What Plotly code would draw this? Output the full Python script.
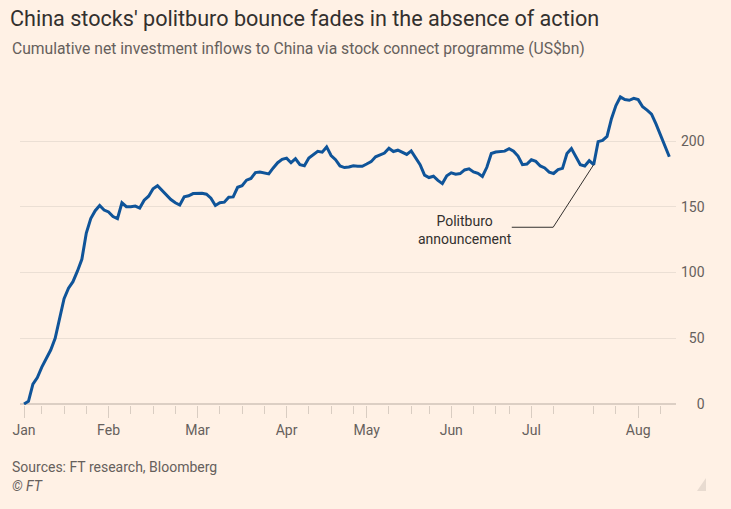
import plotly.graph_objects as go

# cumulative net inflows, one value per trading day from the start of January
inflows = [
    0, 2, 15, 20, 28, 34, 41, 50, 64, 80,
    88, 93, 101, 110, 130, 141, 147, 151, 147.5, 146,
    142.5, 141, 153, 150, 150, 150.5, 149, 155, 158, 163.7,
    166, 162.5, 159.5, 155.5, 153, 151.3, 157.5, 158.3, 160, 160.3,
    160.2, 159.5, 156.5, 151, 153, 153.5, 157.3, 157.5, 164.8, 166,
    170.2, 171.5, 176, 176.4, 175.5, 175, 179.5, 183.5, 186, 187,
    183.5, 186.5, 182, 181.2, 187, 189.6, 192.2, 191.5, 195.5, 189,
    185.8, 181, 179.8, 180.2, 181.2, 180.8, 180.8, 182.5, 184.3, 188,
    189.2, 190.8, 194.5, 192, 193, 191.5, 189.8, 192.5, 187.5, 182,
    174, 172.2, 173.2, 170, 167.6, 173.5, 175.8, 174.8, 175.2, 178,
    178.8, 176.5, 175.4, 173, 180, 190.5, 191.6, 191.8, 192.3, 194.2,
    192.3, 188.5, 182, 182.5, 185.7, 184.5, 181, 179.5, 176.3, 175.3,
    178.3, 179.2, 190.5, 194.2, 187.5, 182, 181, 185, 182, 199.5,
    200.5, 203.5, 217, 227, 233.5, 231.5, 231, 232.5, 231.5, 226,
    223.5, 220.5, 213, 205, 196, 188,
]
days = list(range(len(inflows)))

month_labels = ["Jan", "Feb", "Mar", "Apr", "May", "Jun", "Jul", "Aug"]
month_days = [0, 19, 39, 59, 77, 96, 114, 138]
week_days = [4, 9, 14, 24, 29, 34, 44, 49, 54, 64, 69, 74, 82, 87, 91,
             101, 106, 109, 119, 128, 133, 143]

y_ticks = [0, 50, 100, 150, 200]
politburo_day = 128

FIG_SP = "\u2007"
y_text = [FIG_SP * (3 - len(str(v))) + str(v) for v in y_ticks]

bg = "#fff1e5"
grey = "#66605c"

fig = go.Figure()
fig.add_trace(go.Scatter(
    x=days, y=inflows, mode="lines",
    line=dict(color="#0f5499", width=3),
    hoverinfo="skip",
))

# elbow leader for the annotation
px0, py0 = politburo_day, inflows[politburo_day]
fig.add_shape(
    type="path", xref="x", yref="y",
    path=f"M {px0},{py0} L 118.9,134.4 L 109.6,134.4",
    line=dict(color="#33302e", width=1),
)
fig.add_annotation(
    x=99.1, y=132.5, xref="x", yref="y",
    text="Politburo<br>announcement", showarrow=False,
    font=dict(size=14, color="#33302e"), align="center",
)

fig.add_annotation(
    x=-0.0152, y=1.098, xref="paper", yref="paper",
    xanchor="left", yanchor="middle", showarrow=False,
    text="Cumulative net investment inflows to China via stock connect programme (US$bn)",
    font=dict(size=15.7, color=grey),
)
fig.add_annotation(
    x=-0.0152, y=-0.191, xref="paper", yref="paper",
    xanchor="left", yanchor="middle", showarrow=False,
    text="Sources: FT research, Bloomberg",
    font=dict(size=14, color=grey),
)
fig.add_annotation(
    x=-0.0152, y=-0.248, xref="paper", yref="paper",
    xanchor="left", yanchor="middle", showarrow=False,
    text="<i>© FT</i>",
    font=dict(size=14, color=grey),
)
fig.add_shape(
    type="path", xref="paper", yref="paper",
    path="M 1.0457,-0.2246 L 1.0457,-0.2646 L 1.032,-0.2646 Z",
    fillcolor="#e8dbd0", line=dict(width=0),
)

fig.update_layout(
    width=731, height=509,
    paper_bgcolor=bg, plot_bgcolor=bg,
    font=dict(family="Roboto, sans-serif", color=grey),
    margin=dict(l=20, r=55, t=80, b=104),
    showlegend=False,
    title=dict(
        text="China stocks' politburo bounce fades in the absence of action",
        x=10 / 731, xanchor="left", xref="container",
        y=1 - 18 / 509, yanchor="middle", yref="container",
        font=dict(size=21.6, color="#33302e"),
    ),
    xaxis=dict(
        range=[-0.9, 146.5],
        tickmode="array", tickvals=month_days, ticktext=month_labels,
        ticks="outside", ticklen=12, tickwidth=1, tickcolor="#d9cdc2",
        showgrid=False, zeroline=False, showline=False,
        tickfont=dict(size=14, color=grey),
        minor=dict(tickmode="array", tickvals=week_days, ticks="outside",
                   ticklen=8, tickwidth=1, tickcolor="#d9cdc2", showgrid=False),
    ),
    yaxis=dict(
        range=[-0.8, 246.4], side="right",
        tickmode="array", tickvals=y_ticks, ticktext=y_text,
        showgrid=True, gridcolor="#ebdfd4", gridwidth=1,
        zeroline=True, zerolinecolor="#dccfc4", zerolinewidth=2,
        showline=False, ticks="", ticklabelstandoff=4,
        tickfont=dict(size=14, color=grey),
    ),
)

fig.write_html(
    "out.html",
    config={"displayModeBar": False},
    post_script="document.body.style.margin='0';document.body.style.background='#fff1e5';",
)
